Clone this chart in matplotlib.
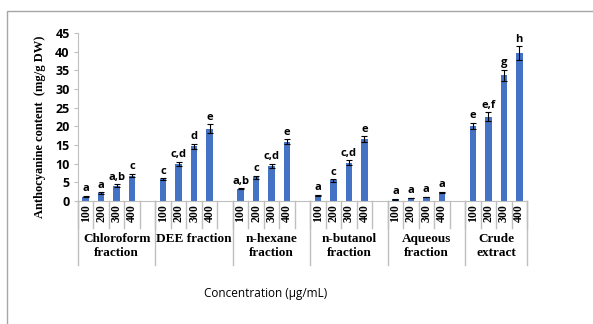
import matplotlib.pyplot as plt
import matplotlib.transforms as mtransforms
from matplotlib.patches import Rectangle

# data
groups = ['Chloroform\nfraction', 'DEE fraction', 'n-hexane\nfraction',
          'n-butanol\nfraction', 'Aqueous\nfraction', 'Crude\nextract']
conc = ['100', '200', '300', '400']
values = [[1.2, 2.2, 4.1, 6.8],
          [5.8, 9.9, 14.6, 19.4],
          [3.3, 6.4, 9.4, 15.9],
          [1.5, 5.5, 10.3, 16.5],
          [0.5, 0.8, 1.1, 2.3],
          [20.1, 22.6, 33.7, 39.6]]
errors = [[0.2, 0.2, 0.4, 0.5],
          [0.3, 0.6, 0.7, 1.1],
          [0.2, 0.4, 0.6, 0.7],
          [0.2, 0.3, 0.6, 0.8],
          [0.1, 0.1, 0.1, 0.2],
          [0.9, 1.2, 1.5, 1.8]]
letters = [['a', 'a', 'a,b', 'c'],
           ['c', 'c,d', 'd', 'e'],
           ['a,b', 'c', 'c,d', 'e'],
           ['a', 'c', 'c,d', 'e'],
           ['a', 'a', 'a', 'a'],
           ['e', 'e,f', 'g', 'h']]

serif = 'Liberation Serif'
sans = 'Open Sans'
grey = '#BFBFBF'

fig = plt.figure(figsize=(5.93, 3.24), dpi=100)
# outer chart frame
fig.patches.append(Rectangle((7 / 593, -0.1), 1.2, 1 - 11 / 324 + 0.1,
                             transform=fig.transFigure, fill=False,
                             edgecolor='#A6A6A6', linewidth=1))
ax = fig.add_axes([78 / 593, 123 / 324, 449 / 593, 168 / 324])

# positions: 4 bars + 1 empty slot per group (last group no gap)
xs, ys, es, labs, ticklabs = [], [], [], [], []
for g in range(len(groups)):
    for i in range(4):
        xs.append(g * 5 + i)
        ys.append(values[g][i])
        es.append(errors[g][i])
        labs.append(letters[g][i])
        ticklabs.append(conc[i])

ax.bar(xs, ys, width=0.42, color='#4472C4', yerr=es,
       error_kw=dict(ecolor='black', elinewidth=0.8, capsize=2, capthick=0.8))
for x, y, e, l in zip(xs, ys, es, labs):
    ax.annotate(l, (x, y + e), xytext=(0, 1), textcoords='offset points',
                ha='center', va='bottom', fontsize=8, fontweight='bold',
                family=sans)

ax.set_xlim(-0.5, 28.5)
ax.set_ylim(0, 45)
ax.set_yticks(range(0, 46, 5))
ax.tick_params(axis='y', labelsize=9, length=3, color=grey, pad=3)
for t in ax.get_yticklabels():
    t.set_fontweight('bold')
    t.set_family(sans)
ax.set_xticks(xs)
ax.set_xticklabels(ticklabs, rotation=90, family=serif, fontweight='bold',
                   fontsize=8.5)
ax.tick_params(axis='x', length=0, pad=2.5)
for s in ['top', 'right']:
    ax.spines[s].set_visible(False)
ax.spines['left'].set_color(grey)
ax.spines['bottom'].set_color(grey)

# multi-level category separators
trans = mtransforms.blended_transform_factory(ax.transData, ax.transAxes)
for b in range(30):
    xb = b - 0.5
    ax.plot([xb, xb], [0, -0.16], color=grey, lw=1, transform=trans, clip_on=False)
for xb in [-0.5, 4.5, 9.5, 14.5, 19.5, 24.5, 28.5]:
    ax.plot([xb, xb], [0, -0.38], color=grey, lw=1, transform=trans, clip_on=False)

centers = [2, 7, 12, 17, 22, 26.5]
for c, g in zip(centers, groups):
    ax.text(c, -0.19, g, transform=trans, ha='center', va='top',
            family=serif, fontweight='bold', fontsize=9.5, linespacing=1.2)

fig.text(40 / 593, 1 - 127 / 324, 'Anthocyanine content  (mg/g DW)',
         rotation=90, ha='center', va='center', family=serif,
         fontweight='bold', fontsize=9)
fig.text(266 / 593, 1 - 293 / 324, 'Concentration (µg/mL)', ha='center',
         va='center', family=sans, fontsize=8.5)

fig.savefig('out.png', dpi=100)
